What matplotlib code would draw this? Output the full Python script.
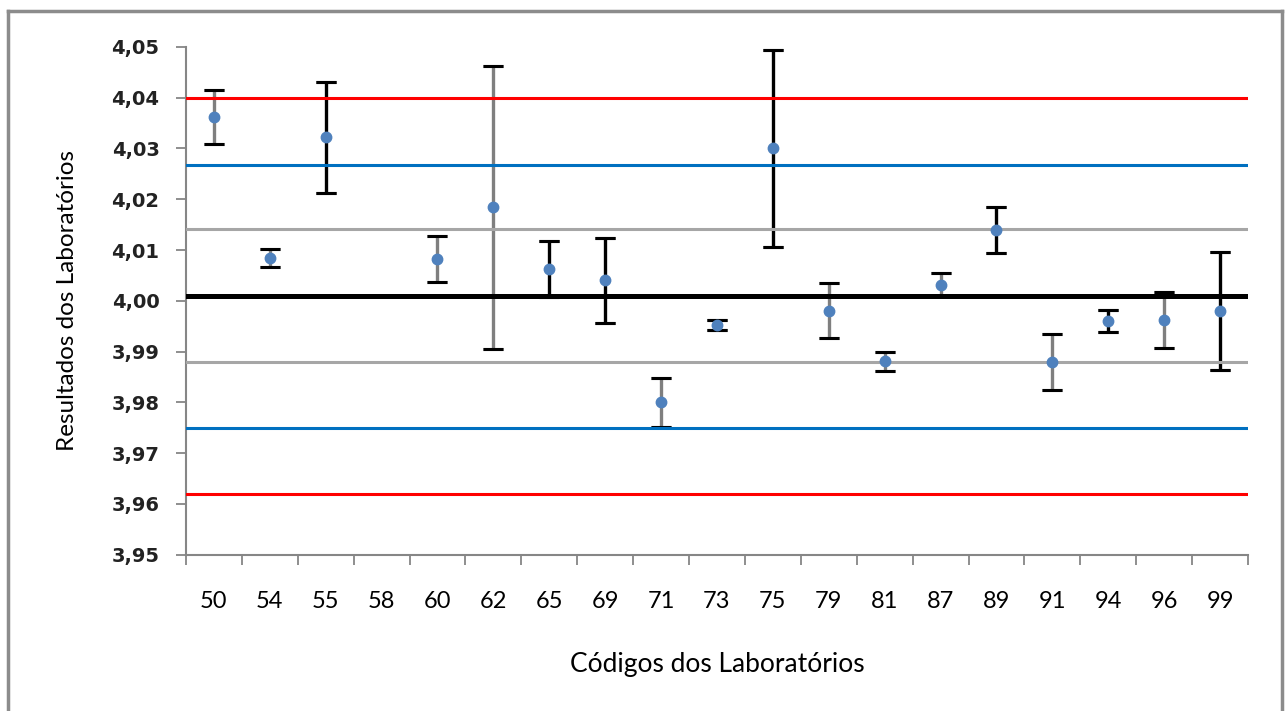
import matplotlib.pyplot as plt
import numpy as np
from matplotlib.lines import Line2D
from matplotlib.ticker import FuncFormatter, MultipleLocator

# Códigos dos laboratórios e resultados (58 sem resultado)
codigos = ["50", "54", "55", "58", "60", "62", "65", "69", "71", "73",
           "75", "79", "81", "87", "89", "91", "94", "96", "99"]
resultados = [4.0362, 4.0084, 4.0322, np.nan, 4.0082, 4.0184, 4.0062, 4.0040,
              3.9800, 3.9953, 4.0300, 3.9980, 3.9881, 4.0032, 4.0139, 3.9880,
              3.9960, 3.9962, 3.9980]
incertezas = [0.0054, 0.0018, 0.0110, np.nan, 0.0045, 0.0279, 0.0055, 0.0083,
              0.0048, 0.0010, 0.0195, 0.0054, 0.0019, 0.0022, 0.0045, 0.0055,
              0.0022, 0.0056, 0.0116]
# barras em cinza (True) ou preto (False)
barra_cinza = [True, True, False, False, True, True, False, False, True, False,
               False, True, True, True, False, True, False, True, False]

# Linhas de referência
valor_ref = 4.0010
lim_cinza = [4.0142, 3.9879]
lim_azul = [4.0268, 3.9750]
lim_verm = [4.0399, 3.9620]

fig = plt.figure(figsize=(12.85, 7.11), dpi=100)
ax = fig.add_axes([0.1447, 0.2201, 0.8265, 0.7138])

x = np.arange(len(codigos))
y = np.array(resultados)
e = np.array(incertezas)

for i in range(len(codigos)):
    if np.isnan(y[i]):
        continue
    cor = "#7f7f7f" if barra_cinza[i] else "black"
    ax.errorbar(x[i], y[i], yerr=e[i], fmt="none", ecolor=cor, elinewidth=2.4,
                capsize=7, capthick=2.2, zorder=2)
    # tampas sempre pretas
    ax.errorbar(x[i], y[i], yerr=e[i], fmt="none", ecolor="black", elinewidth=0,
                capsize=7, capthick=2.2, zorder=2.1)

for v in lim_verm:
    ax.axhline(v, color="#ff0000", lw=2.2, zorder=3)
for v in lim_azul:
    ax.axhline(v, color="#0070c0", lw=2.2, zorder=3)
for v in lim_cinza:
    ax.axhline(v, color="#a6a6a6", lw=2.2, zorder=3)
ax.axhline(valor_ref, color="black", lw=3.6, zorder=3)

ax.plot(x, y, "o", color="#4f81bd", ms=7.5, zorder=4, linestyle="none")

ax.set_xlim(-0.5, len(codigos) - 0.5)
ax.set_ylim(3.95, 4.05)
ax.yaxis.set_major_locator(MultipleLocator(0.01))
ax.yaxis.set_major_formatter(FuncFormatter(lambda v, p: f"{v:.2f}".replace(".", ",")))

ax.set_xticks(x)
ax.set_xticklabels(codigos, fontfamily="Lato", fontsize=17)
ax.set_xticks(np.arange(len(codigos) + 1) - 0.5, minor=True)
ax.tick_params(axis="x", which="major", length=0, pad=26)
ax.tick_params(axis="x", which="minor", length=7, width=1.3, color="#868686")
ax.tick_params(axis="y", length=7, width=1.3, color="#868686", labelsize=14, pad=12)
for lbl in ax.get_yticklabels():
    lbl.set_fontweight("bold")
    lbl.set_color("#222222")

for s in ["top", "right"]:
    ax.spines[s].set_visible(False)
for s in ["left", "bottom"]:
    ax.spines[s].set_color("#868686")
    ax.spines[s].set_linewidth(1.5)

ax.set_xlabel("Códigos dos Laboratórios", fontfamily="Lato", fontsize=19)
ax.set_ylabel("Resultados dos Laboratórios", fontfamily="Lato", fontsize=17.5)
ax.xaxis.set_label_coords(0.5, -0.192)
ax.yaxis.set_label_coords(-0.1017, 0.5)

# moldura do gráfico
W, H = 1285, 711
borda = dict(color="#8c8c8c", lw=2.5, transform=fig.transFigure)
fig.add_artist(Line2D([8 / W, 8 / W], [0, 1 - 11 / H], **borda))
fig.add_artist(Line2D([8 / W, 1282 / W], [1 - 11 / H, 1 - 11 / H], **borda))
fig.add_artist(Line2D([1282 / W, 1282 / W], [0, 1 - 11 / H], **borda))

fig.savefig("out.png", dpi=100)
